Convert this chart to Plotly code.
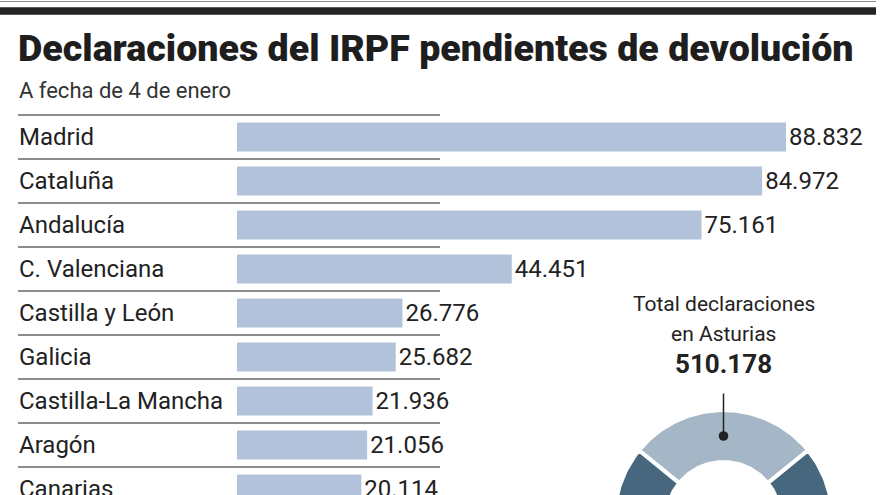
import numpy as np
import plotly.graph_objects as go

# ---------------- data ----------------
regions = ["Madrid", "Cataluña", "Andalucía", "C. Valenciana", "Castilla y León",
           "Galicia", "Castilla-La Mancha", "Aragón", "Canarias"]
pending = [88832, 84972, 75161, 44451, 26776, 25682, 21936, 21056, 20114]

title_text = "Declaraciones del IRPF pendientes de devolución"
subtitle_text = "A fecha de 4 de enero"
donut_caption = ["Total declaraciones", "en Asturias"]
total_asturias = 510178
donut_labels = ["Destacado", "Resto"]
donut_shares = [28.3, 71.7]

# ---------------- layout constants ----------------
W, H = 880, 495
FONT = "Roboto"
TXT = "#222222"
BAR = "#b2c2db"
DONUT_COLORS = ["#a5b7c7", "#47677f"]

bar_x0_px, bar_x_max_px = 237, 786
k = (bar_x_max_px - bar_x0_px) / max(pending)
x_range = [-bar_x0_px / k, (W - bar_x0_px) / k]

row0_px, pitch = 137, 44
y_range = [(H - row0_px) / pitch, -row0_px / pitch]


def px(x):
    return x / W


def py(y):
    return 1 - y / H


def thousands(v):
    return f"{v:,}".replace(",", ".")


fig = go.Figure()

fig.add_trace(go.Bar(
    x=pending, y=regions, orientation="h",
    marker=dict(color=BAR, line=dict(width=0)),
    width=29 / pitch,
    text=[thousands(v) for v in pending],
    textposition="outside", constraintext="none", cliponaxis=False,
    textfont=dict(family=FONT, size=24, color=TXT),
    hoverinfo="skip", showlegend=False,
    xaxis="x", yaxis="y",
))

# donut (as filled ring sectors computed from the shares)
cx, cy, R_out, R_in = 723.5, 519, 109, 57
shares = np.array(donut_shares, dtype=float)
frac = np.concatenate([[0], np.cumsum(shares)]) / shares.sum() * 360
theta_start = 90 + shares[0] / shares.sum() * 360 / 2
for i, lab in enumerate(donut_labels):
    t = np.radians(np.linspace(theta_start - frac[i], theta_start - frac[i + 1], 200))
    xs = np.concatenate([cx + R_out * np.cos(t), cx + R_in * np.cos(t[::-1])])
    ys = np.concatenate([cy - R_out * np.sin(t), cy - R_in * np.sin(t[::-1])])
    fig.add_trace(go.Scatter(
        x=np.append(xs, xs[0]), y=np.append(ys, ys[0]), mode="lines",
        fill="toself", fillcolor=DONUT_COLORS[i],
        line=dict(color="white", width=4), name=lab,
        hoverinfo="skip", showlegend=False, xaxis="x2", yaxis="y2",
    ))

shapes = []
# top rules
shapes.append(dict(type="line", xref="paper", yref="paper", x0=0, x1=px(876),
                   y0=py(1.5), y1=py(1.5), line=dict(color="#8a8a8a", width=1.2)))
shapes.append(dict(type="rect", xref="paper", yref="paper", x0=0, x1=px(876),
                   y0=py(14.7), y1=py(7.3), fillcolor="#242424", line=dict(width=0)))
# row separators
for i in range(len(regions)):
    shapes.append(dict(type="line", xref="paper", yref="y", x0=px(18), x1=px(440),
                       y0=i - 0.5, y1=i - 0.5, line=dict(color="#666666", width=1.6)))

annotations = []
annotations.append(dict(text=title_text, x=px(16), y=py(48), xref="paper", yref="paper",
                        xanchor="left", yanchor="middle", showarrow=False,
                        font=dict(family=FONT, size=37.6, color="#1e1e1e", weight=900)))
annotations.append(dict(text=subtitle_text, x=px(17), y=py(91), xref="paper", yref="paper",
                        xanchor="left", yanchor="middle", showarrow=False,
                        font=dict(family=FONT, size=22, color="#333333")))
for r in regions:
    annotations.append(dict(text=r, x=px(17), y=r, xref="paper", yref="y",
                            xanchor="left", yanchor="middle", showarrow=False,
                            font=dict(family=FONT, size=24, color=TXT)))
annotations.append(dict(text=donut_caption[0], x=px(cx), y=py(304), xref="paper", yref="paper",
                        xanchor="center", yanchor="middle", showarrow=False,
                        font=dict(family=FONT, size=21, color=TXT)))
annotations.append(dict(text=donut_caption[1], x=px(cx), y=py(334), xref="paper", yref="paper",
                        xanchor="center", yanchor="middle", showarrow=False,
                        font=dict(family=FONT, size=21, color=TXT)))
annotations.append(dict(text=f"<b>{thousands(total_asturias)}</b>", x=px(cx), y=py(364),
                        xref="paper", yref="paper", xanchor="center", yanchor="middle",
                        showarrow=False, font=dict(family=FONT, size=26, color=TXT)))
mid_r = (R_out + R_in) / 2
annotations.append(dict(text=" ", x=cx, y=cy - mid_r, xref="x2", yref="y2",
                        ax=0, ay=-45, showarrow=True, arrowhead=6, arrowsize=1.6,
                        arrowwidth=1.5, arrowcolor="#222222", standoff=0,
                        font=dict(size=2)))

fig.update_layout(
    width=W, height=H, margin=dict(l=0, r=0, t=0, b=0),
    paper_bgcolor="white", plot_bgcolor="rgba(0,0,0,0)",
    xaxis=dict(range=x_range, visible=False, domain=[0, 1], fixedrange=True),
    yaxis=dict(range=y_range, visible=False, domain=[0, 1], type="category",
               categoryorder="array", categoryarray=regions, fixedrange=True),
    xaxis2=dict(range=[0, W], visible=False, overlaying="x", anchor="y2", fixedrange=True),
    yaxis2=dict(range=[H, 0], visible=False, overlaying="y", anchor="x2", fixedrange=True),
    shapes=shapes, annotations=annotations, showlegend=False,
    font=dict(family=FONT, color=TXT),
)

fig.write_html(
    "out.html",
    config={"displayModeBar": False, "staticPlot": True},
    post_script="document.body.style.margin='0';document.body.style.overflow='hidden';",
)
